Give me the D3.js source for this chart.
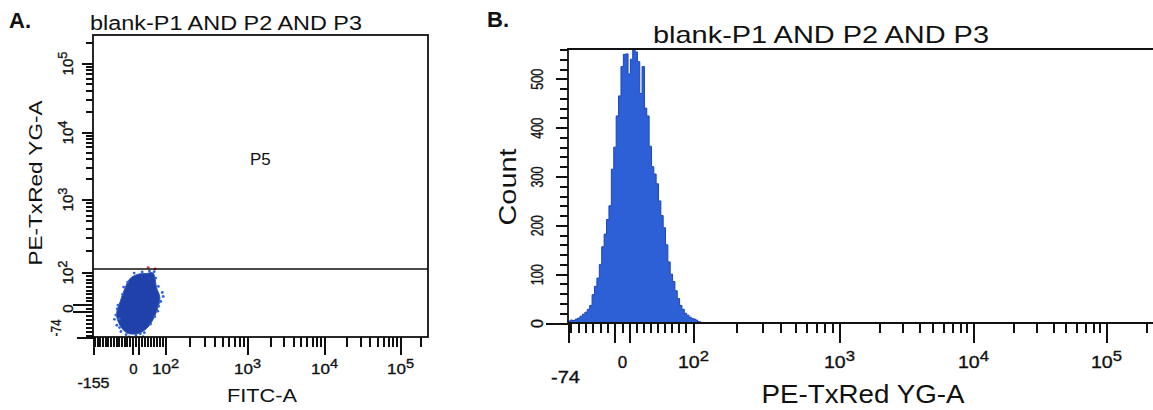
<!DOCTYPE html>
<html>
<head>
<meta charset="utf-8">
<script src="https://cdn.jsdelivr.net/npm/d3@7"></script>
<style>
  body { margin: 0; background: #fff; }
  svg { display: block; font-family: "Liberation Sans", Arial, sans-serif; }
</style>
</head>
<body>
<svg id="fig" width="1153" height="410"></svg>
<script>
// ---- texts
const panelLetters = ["A.", "B."];
const panelTitle = "blank-P1 AND P2 AND P3";
const gateName = "P5";
const scatterXTitle = "FITC-A";
const scatterYTitle = "PE-TxRed YG-A";
const histXTitle = "PE-TxRed YG-A";
const histYTitle = "Count";

// ---- tick labels
const scatterXLabels = [-155, 0, 100, 1000, 10000, 100000];
const scatterYLabels = [-74, 0, 100, 1000, 10000, 100000];
const histXLabels = [-74, 0, 100, 1000, 10000, 100000];
const histYLabels = [0, 100, 200, 300, 400, 500];
const decadeSup = { 100: "2", 1000: "3", 10000: "4", 100000: "5" };

// ---- panel A data (FITC-A, PE-TxRed YG-A)
const gateLevel = 110;
const clusterOutline = [
  [39, 96], [60, 97], [72, 56], [83, 28], [72, -9], [56, -35], [39, -52], [11, -65],
  [-25, -65], [-43, -56], [-62, -35], [-68, -14], [-55, 17], [-37, 55], [-18, 82], [11, 94]
];
const clusterEdgeDots = [
  [-71, -18], [-67, -44], [-63, 8], [-57, -50], [-52, -60], [-33, -68], [-22, -74], [3, -69],
  [18, -66], [31, -63], [52, -41], [66, -22], [76, -8], [86, 18], [91, 43], [78, 60],
  [69, 83], [64, 101], [48, 103], [24, 100], [-3, 97], [-27, 72], [-46, 38], [-66, -2],
  [-76, -29], [94, 32], [27, -73], [-42, 58], [79, 5], [-58, -28]
];
const outsideGateDots = [[44, 115], [67, 110]];

// ---- panel B histogram (bins start at -74, width 3.3)
const histStart = -74;
const histBinWidth = 3.3;
const histCounts = [
  4, 6, 5, 8, 10, 14, 18, 22, 28, 36, 58, 75, 92, 120, 156, 182, 212, 240, 315, 360,
  424, 465, 525, 550, 551, 510, 540, 565, 555, 535, 470, 525, 440, 424, 362, 320, 305, 285, 250, 220,
  195, 160, 125, 100, 85, 66, 50, 36, 28, 20, 16, 12, 9, 8, 6, 3, 2
];

const ADC_MAX = 262144;

// biexponential-like display transform: linear up to 100, log above
function bi(v) { return v <= 100 ? v / 100 : 1 + Math.log10(v / 100); }

function biScale(dom, rng) {
  const lin = d3.scaleLinear().domain(dom.map(bi)).range(rng);
  const s = v => lin(bi(v));
  s.copy = () => biScale(dom, rng);
  s.range = () => lin.range();
  s.domain = () => dom.slice();
  return s;
}

function tickSets(lo) {
  const lin = d3.range(Math.ceil(lo / 10) * 10, 100, 10).filter(v => v !== 10 && v !== -10);
  const log = [];
  [100, 1000, 10000, 100000].forEach(dec => {
    d3.range(2, 10).forEach(m => { if (dec * m <= ADC_MAX) log.push(dec * m); });
  });
  return { minor: lin.concat(log), major: [lo, -10, 10, 100, 1000, 10000, 100000] };
}

const svg = d3.select("#fig");
const ink = "#111";

function tickAxis(parent, axis, values, size, tr) {
  parent.append("g")
    .attr("transform", tr)
    .attr("color", ink)
    .call(axis.tickValues(values).tickSize(size).tickSizeOuter(0).tickFormat(""))
    .call(g => g.select(".domain").remove())
    .call(g => g.selectAll("line").attr("stroke-width", 2).attr("shape-rendering", "crispEdges"));
}

function writeLabel(sel, d, fs, isLog) {
  sel.text("")
    .attr("font-size", fs).attr("fill", ink)
    .attr("stroke", ink).attr("stroke-width", 0.35)
    .attr("font-family", "Liberation Sans, Arial, sans-serif");
  if (isLog && decadeSup[d]) {
    sel.append("tspan").text("10");
    sel.append("tspan").attr("dy", "-0.5em").attr("font-size", fs * 0.85).text(decadeSup[d]);
  } else {
    sel.text(d);
  }
}

function fitLabel(sel, len) {
  sel.attr("textLength", len).attr("lengthAdjust", "spacingAndGlyphs");
}

// =============== Panel A: scatter =================
const ax = biScale([-155, 0, 100, 1e3, 1e4, 1e5, ADC_MAX], [93, 135, 165, 247, 324, 400, 428]);
const ay = biScale([-74, 0, 100, 1e3, 1e4, 1e5, ADC_MAX], [337, 308, 272, 199, 132, 63, 35]);
const aLeft = ax(-155), aRight = ax(ADC_MAX), aTop = ay(ADC_MAX), aBottom = ay(-74);

const gA = svg.append("g");

// ticks x
const axT = tickSets(-155);
tickAxis(gA, d3.axisBottom(ax), axT.minor, 10, `translate(0,${aBottom})`);
tickAxis(gA, d3.axisBottom(ax), axT.major, 18, `translate(0,${aBottom})`);
// ticks y
const ayT = tickSets(-74);
tickAxis(gA, d3.axisLeft(ay), ayT.minor, 7, `translate(${aLeft},0)`);
tickAxis(gA, d3.axisLeft(ay), [100, 1000, 10000, 100000], 11, `translate(${aLeft},0)`);
tickAxis(gA, d3.axisLeft(ay), [-10, 10], 20, `translate(${aLeft},0)`);
tickAxis(gA, d3.axisLeft(ay), [-74], 16, `translate(${aLeft},0)`);

// x labels
gA.append("g")
  .attr("transform", `translate(0,${aBottom})`)
  .call(d3.axisBottom(ax).tickValues(scatterXLabels).tickSize(0))
  .call(g => g.select(".domain").remove())
  .call(g => g.selectAll(".tick text").each(function(d) {
    const t = d3.select(this)
      .attr("dy", 0).attr("y", d === -155 ? 51 : 37)
      .attr("x", d === 0 ? -2 : 0);
    writeLabel(t, d, 15, true);
    if (decadeSup[d]) fitLabel(t, 27);
    if (d === -155) fitLabel(t, 32);
  }));

// y labels (rotated)
gA.append("g")
  .attr("transform", `translate(${aLeft},0)`)
  .call(d3.axisLeft(ay).tickValues(scatterYLabels).tickSize(0))
  .call(g => g.select(".domain").remove())
  .call(g => g.selectAll(".tick text").each(function(d) {
    const t = d3.select(this)
      .attr("transform", "rotate(-90)")
      .attr("dy", 0)
      .attr("x", d === -74 ? 1 : 0)
      .attr("y", d === -74 ? -32 : -20)
      .attr("text-anchor", d === -74 ? "start" : "middle");
    writeLabel(t, d, 15, true);
    if (decadeSup[d]) fitLabel(t, 24);
    if (d === -74) fitLabel(t, 17);
  }));

// cluster
const clip = svg.append("defs");
clip.append("clipPath").attr("id", "clipA")
  .append("rect").attr("x", aLeft).attr("y", aTop).attr("width", aRight - aLeft).attr("height", aBottom - aTop);

const plotA = gA.append("g").attr("clip-path", "url(#clipA)");
plotA.append("path")
  .datum(clusterOutline)
  .attr("d", d3.line().x(d => ax(d[0])).y(d => ay(d[1])).curve(d3.curveCatmullRomClosed))
  .attr("fill", "#2141aa")
  .attr("stroke", "#2a52c2")
  .attr("stroke-width", 1);
plotA.selectAll("circle.edge")
  .data(clusterEdgeDots)
  .join("circle")
  .attr("class", "edge")
  .attr("cx", d => ax(d[0]))
  .attr("cy", d => ay(d[1]))
  .attr("r", 1.4)
  .attr("fill", "#3064d8");
plotA.selectAll("circle.out")
  .data(outsideGateDots)
  .join("circle")
  .attr("class", "out")
  .attr("cx", d => ax(d[0]))
  .attr("cy", d => ay(d[1]))
  .attr("r", 1.4)
  .attr("fill", "#e0303a");

// gate line
gA.append("line")
  .attr("x1", aLeft).attr("x2", aRight)
  .attr("y1", ay(gateLevel)).attr("y2", ay(gateLevel))
  .attr("stroke", ink).attr("stroke-width", 1.5);

// frame
gA.append("rect")
  .attr("x", aLeft).attr("y", aTop)
  .attr("width", aRight - aLeft).attr("height", aBottom - aTop)
  .attr("fill", "none").attr("stroke", ink).attr("stroke-width", 1.8);

gA.append("text").attr("x", 250).attr("y", 165).attr("font-size", 17).attr("fill", ink).text(gateName);

// titles
gA.append("text").attr("x", 9).attr("y", 28)
  .attr("font-size", 22).attr("font-weight", "bold").attr("fill", "#111").text(panelLetters[0]);
gA.append("text").attr("x", 90).attr("y", 30)
  .attr("font-size", 20).attr("fill", ink)
  .attr("textLength", 272).attr("lengthAdjust", "spacingAndGlyphs").text(panelTitle);
gA.append("text").attr("x", 262).attr("y", 402).attr("text-anchor", "middle")
  .attr("font-size", 19).attr("fill", ink)
  .attr("textLength", 70).attr("lengthAdjust", "spacingAndGlyphs").text(scatterXTitle);
gA.append("text").attr("transform", "translate(42,183) rotate(-90)").attr("text-anchor", "middle")
  .attr("font-size", 19).attr("fill", ink)
  .attr("textLength", 165).attr("lengthAdjust", "spacingAndGlyphs").text(scatterYTitle);

// =============== Panel B: histogram =================
const bx = biScale([-74, 0, 100, 1e3, 1e4, 1e5, ADC_MAX], [568, 622, 693, 839, 973, 1106, 1162]);
const by = d3.scaleLinear().domain([0, 561]).range([323, 49]);
const bLeft = bx(-74), bTop = by.range()[1], bBottom = by.range()[0], bRight = 1153;

const gB = svg.append("g");

clip.append("clipPath").attr("id", "clipB")
  .append("rect").attr("x", bLeft).attr("y", bTop).attr("width", bRight - bLeft).attr("height", bBottom - bTop);

const histPts = histCounts.map((c, i) => [histStart + i * histBinWidth, c]);
histPts.push([histStart + histCounts.length * histBinWidth, 0]);

gB.append("g").attr("clip-path", "url(#clipB)")
  .append("path")
  .datum(histPts)
  .attr("d", d3.area()
    .x(d => bx(d[0]))
    .y0(by(0))
    .y1(d => by(d[1]))
    .curve(d3.curveStepAfter))
  .attr("fill", "#2d5fd6")
  .attr("stroke", "#1c46b8")
  .attr("stroke-width", 1);

// x ticks
const bxT = tickSets(-74);
tickAxis(gB, d3.axisBottom(bx), bxT.minor, 10, `translate(0,${bBottom})`);
tickAxis(gB, d3.axisBottom(bx), bxT.major, 20, `translate(0,${bBottom})`);
// y ticks
tickAxis(gB, d3.axisLeft(by), d3.range(20, 561, 20).filter(v => v % 100 !== 0), 8, `translate(${bLeft},0)`);
tickAxis(gB, d3.axisLeft(by), histYLabels.filter(v => v > 0), 12, `translate(${bLeft},0)`);
tickAxis(gB, d3.axisLeft(by), [0], 22, `translate(${bLeft},0)`);

// x labels
gB.append("g")
  .attr("transform", `translate(0,${bBottom})`)
  .call(d3.axisBottom(bx).tickValues(histXLabels).tickSize(0))
  .call(g => g.select(".domain").remove())
  .call(g => g.selectAll(".tick text").each(function(d) {
    const t = d3.select(this)
      .attr("dy", 0).attr("y", d === -74 ? 60 : 45)
      .attr("x", d === -74 ? -3 : 0);
    writeLabel(t, d, 17, true);
    if (decadeSup[d]) fitLabel(t, 31);
    if (d === -74) fitLabel(t, 29);
  }));

// y labels (linear counts)
gB.append("g")
  .attr("transform", `translate(${bLeft},0)`)
  .call(d3.axisLeft(by).tickValues(histYLabels).tickSize(0))
  .call(g => g.select(".domain").remove())
  .call(g => g.selectAll(".tick text").each(function(d) {
    const t = d3.select(this)
      .attr("transform", "rotate(-90)")
      .attr("dy", 0).attr("x", 0).attr("y", -25)
      .attr("text-anchor", "middle");
    writeLabel(t, d, 16, false);
    if (d > 0) fitLabel(t, 21);
  }));

// frame lines
gB.append("path")
  .attr("d", `M${bRight},${bTop}H${bLeft}V${bBottom}H${bRight}`)
  .attr("fill", "none").attr("stroke", ink).attr("stroke-width", 1.8);

gB.append("text").attr("x", 487).attr("y", 27)
  .attr("font-size", 22).attr("font-weight", "bold").attr("fill", "#111").text(panelLetters[1]);
gB.append("text").attr("x", 653).attr("y", 43)
  .attr("font-size", 24).attr("fill", ink)
  .attr("textLength", 336).attr("lengthAdjust", "spacingAndGlyphs").text(panelTitle);
gB.append("text").attr("x", 863).attr("y", 403).attr("text-anchor", "middle")
  .attr("font-size", 25).attr("fill", ink)
  .attr("textLength", 203).attr("lengthAdjust", "spacingAndGlyphs").text(histXTitle);
gB.append("text").attr("transform", "translate(516,187) rotate(-90)").attr("text-anchor", "middle")
  .attr("font-size", 23).attr("fill", ink)
  .attr("textLength", 77).attr("lengthAdjust", "spacingAndGlyphs").text(histYTitle);
</script>
</body>
</html>
